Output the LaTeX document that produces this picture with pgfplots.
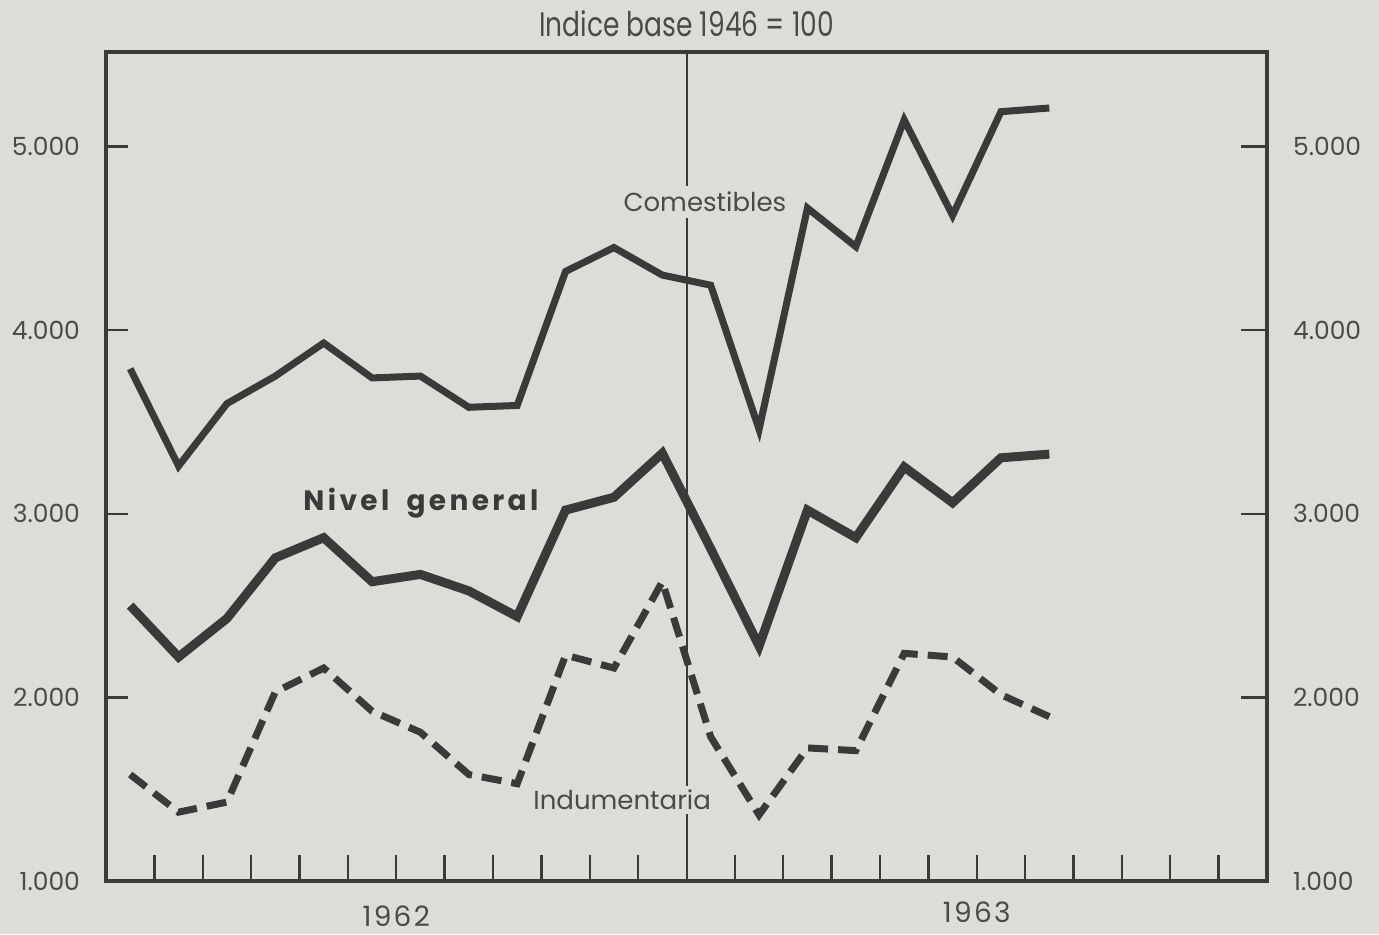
\documentclass[border=0pt]{standalone}
\usepackage{pgfplots}
\usepackage{pgfplotstable}
\pgfplotsset{compat=1.18}
\usepackage{fontspec}
\setmainfont{Poppins}
\definecolor{bg}{HTML}{DCDCDA}
\definecolor{ink}{HTML}{3A3A3A}
\definecolor{txt}{HTML}{4A4A4A}

\pgfplotstableread{
x com gen ind
0.5 3790 2500 1580
1.5 3260 2220 1375
2.5 3600 2430 1430
3.5 3750 2760 2030
4.5 3930 2870 2160
5.5 3740 2630 1925
6.5 3750 2670 1810
7.5 3580 2580 1580
8.5 3590 2440 1530
9.5 4320 3020 2230
10.5 4450 3090 2160
11.5 4300 3330 2630
12.5 4245 2810 1785
13.5 3460 2280 1360
14.5 4665 3020 1725
15.5 4455 2870 1710
16.5 5145 3255 2240
17.5 4625 3060 2220
18.5 5190 3305 2015
19.5 5210 3325 1895
}\data

\pgfplotsset{
  base/.style={
    at={(53pt,26.5pt)}, anchor=south west,
    scale only axis, width=580.5pt, height=414.5pt,
    xmin=0, xmax=24, ymin=1000, ymax=5515,
    axis line style={ink, line width=2pt},
    tick style={ink, line width=1.2pt},
    ytick={1000,2000,3000,4000,5000},
    yticklabels={1.000,2.000,3.000,4.000,5.000},
    ticklabel style={text=txt, font=\fontsize{12.5}{14}\selectfont},
    /pgf/number format/assume math mode=true,
    clip=false,
  }
}

\begin{document}
\begin{tikzpicture}
\useasboundingbox (0,0) rectangle (689.5pt,467pt);
\fill[bg] (0,0) rectangle (689.5pt,467pt);

% right y axis
\begin{axis}[base,
  hide x axis,
  axis y line*=right,
  tick align=inside,
  major tick length=13pt,
  yticklabel style={xshift=9.5pt},
]
\end{axis}

\begin{axis}[base,
  tick align=inside,
  ytick pos=left,
  yticklabel pos=left,
  yticklabel style={xshift=-9.5pt},
  y tick style={draw=none},
  xtick pos=bottom,
  xtick={1,2,3,4,5,6,7,8,9,10,11,13,14,15,16,17,18,19,20,21,22,23},
  xticklabels={},
  major tick length=13pt,
]
% left-side inward ticks
\addplot[ink, line width=1.2pt, forget plot, mark=none] coordinates {(0,1000) (0.46,1000)};
\addplot[ink, line width=1.2pt, forget plot, mark=none] coordinates {(0,2000) (0.46,2000)};
\addplot[ink, line width=1.2pt, forget plot, mark=none] coordinates {(0,3000) (0.46,3000)};
\addplot[ink, line width=1.2pt, forget plot, mark=none] coordinates {(0,4000) (0.46,4000)};
\addplot[ink, line width=1.2pt, forget plot, mark=none] coordinates {(0,5000) (0.46,5000)};
\addplot[ink, line width=1pt, forget plot, mark=none] coordinates {(12,1000) (12,5515)};
\addplot[ink, line width=3.5pt, line join=miter, mark=none] table[x=x,y=com] {\data};
\addplot[ink, line width=4.5pt, line join=miter, mark=none] table[x=x,y=gen] {\data};
\addplot[ink, line width=3.5pt, line join=miter, dash pattern=on 10pt off 5pt, mark=none] table[x=x,y=ind] {\data};
\node[fill=bg, inner sep=3pt, text=txt, font=\fontsize{13}{15}\selectfont] at (axis cs:12.38,4700) {Comestibles};
\node[fill=bg, inner sep=2pt, text=txt, font=\fontsize{13}{15}\selectfont] at (axis cs:10.67,1441) {Indumentaria};
\node[text=ink, font=\fontsize{14}{16}\selectfont\bfseries\addfontfeatures{LetterSpace=12}] at (axis cs:6.51,3058) {Nivel\hspace{4pt} general};
\node[text=txt, font=\fontsize{14}{16}\selectfont\addfontfeatures{LetterSpace=8}] at (axis cs:6,1000) [yshift=-17.5pt] {1962};
\node[text=txt, font=\fontsize{14}{16}\selectfont\addfontfeatures{LetterSpace=8}] at (axis cs:18,1000) [yshift=-15.5pt] {1963};
\node[text=txt, font=\fontsize{17}{19}\selectfont] at (rel axis cs:0.5,1) [yshift=14pt] {\scalebox{0.78}[1]{Indice base 1946 = 100}};
\end{axis}
\end{tikzpicture}
\end{document}
